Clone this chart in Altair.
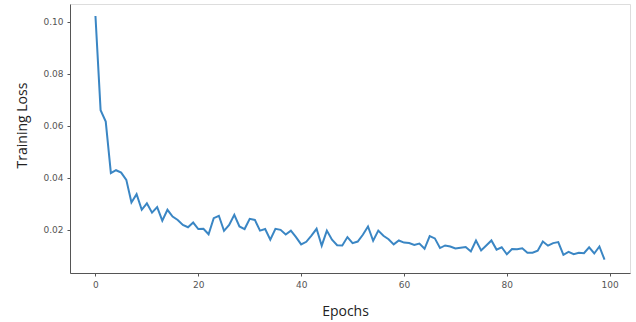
import altair as alt
import pandas as pd

epochs = list(range(100))
loss = [
    0.1022, 0.0660, 0.0616, 0.0418, 0.0429, 0.0420, 0.0392, 0.0305, 0.0337, 0.0277,
    0.0302, 0.0266, 0.0287, 0.0235, 0.0277, 0.0251, 0.0238, 0.0219, 0.0210, 0.0228,
    0.0203, 0.0204, 0.0183, 0.0245, 0.0254, 0.0196, 0.0219, 0.0258, 0.0213, 0.0203,
    0.0242, 0.0238, 0.0197, 0.0203, 0.0162, 0.0204, 0.0200, 0.0182, 0.0197, 0.0172,
    0.0144, 0.0154, 0.0178, 0.0204, 0.0139, 0.0197, 0.0162, 0.0141, 0.0140, 0.0172,
    0.0149, 0.0155, 0.0181, 0.0213, 0.0158, 0.0197, 0.0177, 0.0164, 0.0144, 0.0159,
    0.0151, 0.0149, 0.0142, 0.0147, 0.0127, 0.0176, 0.0167, 0.0130, 0.0140, 0.0136,
    0.0128, 0.0131, 0.0134, 0.0117, 0.0159, 0.0121, 0.0140, 0.0159, 0.0124, 0.0133,
    0.0106, 0.0126, 0.0125, 0.0129, 0.0112, 0.0112, 0.0120, 0.0155, 0.0139, 0.0149,
    0.0153, 0.0104, 0.0115, 0.0106, 0.0112, 0.0110, 0.0133, 0.0109, 0.0136, 0.0085,
]
x_ticks = [0, 20, 40, 60, 80, 100]
y_ticks = [0.02, 0.04, 0.06, 0.08, 0.10]

df = pd.DataFrame({"epoch": epochs, "loss": loss})

axis_common = dict(
    grid=False,
    domainColor="#555555",
    domainWidth=1,
    tickColor="#555555",
    tickSize=3,
    labelFont="DejaVu Sans",
    labelFontSize=9,
    labelColor="#555555",
    titleFont="Open Sans",
    titleFontSize=14,
    titleFontWeight="normal",
    titleColor="#222222",
)

chart = (
    alt.Chart(df)
    .mark_line(color="#3a86c4", strokeWidth=2)
    .encode(
        x=alt.X(
            "epoch:Q",
            scale=alt.Scale(domain=[-4.95, 103.95], nice=False, zero=False),
            axis=alt.Axis(
                values=x_ticks,
                format="d",
                title="Epochs",
                labelPadding=4,
                titleX=275,
                titleY=42,
                titleBaseline="alphabetic",
                **axis_common,
            ),
        ),
        y=alt.Y(
            "loss:Q",
            scale=alt.Scale(domain=[0.0034, 0.1068], nice=False, zero=False),
            axis=alt.Axis(
                values=y_ticks,
                format=".2f",
                title="Training Loss",
                labelPadding=4,
                titleX=-44,
                titleY=121,
                titleBaseline="alphabetic",
                titleAngle=-90,
                **axis_common,
            ),
        ),
    )
    .properties(
        width=560,
        height=269,
        autosize=alt.AutoSizeParams(type="none"),
        padding={"left": 70, "top": 4, "right": 6, "bottom": 49},
    )
    .configure_view(stroke="#555555", strokeWidth=1)
    .configure(background="white")
)

chart.save("out.html", embed_options={"renderer": "svg", "actions": False})
